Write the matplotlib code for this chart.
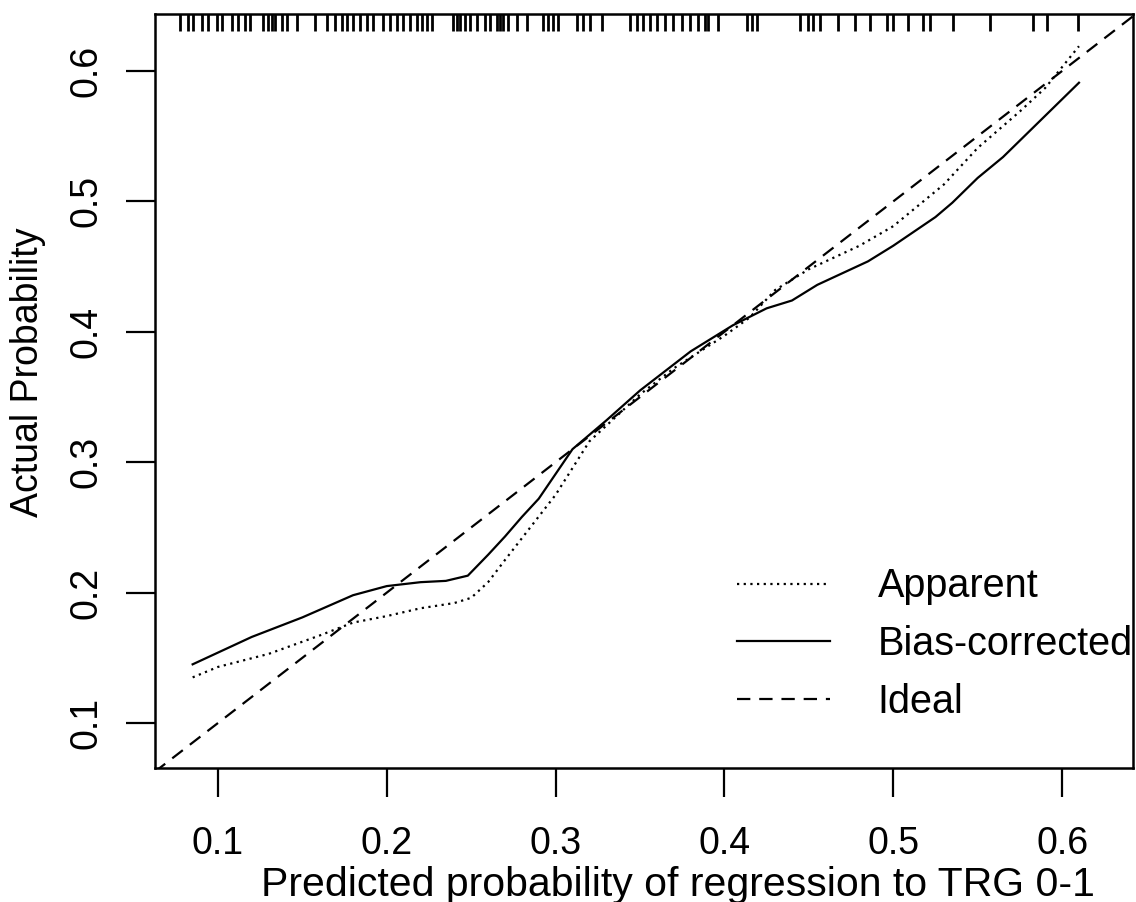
import matplotlib
matplotlib.use("Agg")
import matplotlib.pyplot as plt
import numpy as np

# ---- data ----
apparent_x = [0.085, 0.10, 0.13, 0.16, 0.18, 0.20, 0.22, 0.24, 0.25, 0.26, 0.27, 0.285,
              0.30, 0.32, 0.35, 0.37, 0.40, 0.415, 0.43, 0.45, 0.48, 0.50, 0.53, 0.55,
              0.575, 0.59, 0.61]
apparent_y = [0.135, 0.143, 0.153, 0.167, 0.177, 0.182, 0.188, 0.192, 0.196, 0.208, 0.225, 0.250,
              0.275, 0.316, 0.352, 0.372, 0.397, 0.411, 0.432, 0.448, 0.466, 0.481, 0.513, 0.541,
              0.569, 0.587, 0.619]

bias_x = [0.085, 0.12, 0.15, 0.18, 0.20, 0.22, 0.235, 0.248, 0.26, 0.27, 0.28, 0.29, 0.31,
          0.33, 0.35, 0.38, 0.405, 0.425, 0.44, 0.455, 0.485, 0.50, 0.525, 0.535, 0.55,
          0.565, 0.595, 0.61]
bias_y = [0.145, 0.166, 0.181, 0.198, 0.205, 0.208, 0.209, 0.213, 0.229, 0.243, 0.258, 0.272, 0.310,
          0.332, 0.355, 0.385, 0.405, 0.418, 0.424, 0.436, 0.454, 0.466, 0.488, 0.499, 0.518,
          0.534, 0.572, 0.591]

ideal = [0.0, 1.0]

# predicted probabilities shown as rug (pixel-read, converted to data units)
rug_px = [180, 188, 193, 202, 208, 217, 222, 232, 238, 245, 250, 263, 268, 272, 275, 282, 287,
          297, 315, 327, 335, 342, 347, 353, 360, 367, 373, 383, 390, 397, 403, 410, 417, 422,
          427, 432, 453, 457, 460, 465, 470, 477, 485, 490, 497, 500, 503, 508, 517, 527, 543,
          548, 553, 558, 577, 583, 590, 602, 630, 637, 643, 650, 657, 665, 673, 682, 690, 698,
          705, 708, 718, 747, 752, 757, 800, 808, 813, 820, 838, 855, 870, 887, 893, 908, 923,
          930, 953, 990, 1033, 1047, 1078]
rug = [round(0.1 + (p - 218) / 1688.0, 4) for p in rug_px]

xticks = [0.1, 0.2, 0.3, 0.4, 0.5, 0.6]
yticks = [0.1, 0.2, 0.3, 0.4, 0.5, 0.6]
xlim = (0.0627, 0.642)
ylim = (0.0655, 0.6437)

labels = ["Apparent", "Bias-corrected", "Ideal"]
xlabel = "Predicted probability of regression to TRG 0-1"
ylabel = "Actual Probability"

# ---- plot ----
plt.rcParams['font.family'] = ['Liberation Sans', 'DejaVu Sans']

fig = plt.figure(figsize=(11.36, 9.02), dpi=100)
ax = fig.add_axes([155/1136, 1 - 768/902, (1133-155)/1136, (768-14)/902])

lw = 1.6
l1, = ax.plot(apparent_x, apparent_y, color='black', lw=lw, linestyle=(0, (1, 2)))
l2, = ax.plot(bias_x, bias_y, color='black', lw=lw, linestyle='-')
l3, = ax.plot(ideal, ideal, color='black', lw=lw, linestyle=(0, (6, 4)))

ax.vlines(rug, 1 - 17/754, 1, transform=ax.get_xaxis_transform(), color='black', lw=2)

ax.set_xlim(*xlim)
ax.set_ylim(*ylim)
ax.set_xticks(xticks)
ax.set_yticks(yticks)
ax.set_xticklabels([f"{v:.1f}" for v in xticks])
ax.set_yticklabels([f"{v:.1f}" for v in yticks], rotation=90, va='center')

ax.tick_params(axis='both', direction='out', length=21, width=1.6, labelsize=27, colors='black')
ax.tick_params(axis='x', pad=21)
ax.tick_params(axis='y', pad=15)
for s in ax.spines.values():
    s.set_linewidth(1.8)

ax.set_xlabel(xlabel, fontsize=29.5, va='baseline', ha='center')
ax.xaxis.set_label_coords((678-155)/978, (768-896)/754)
ax.set_ylabel(ylabel, fontsize=27, va='center', ha='center')
ax.yaxis.set_label_coords((28-155)/978, (768-372)/754)

leg = ax.legend([l1, l2, l3], labels, frameon=False, fontsize=28.5,
                loc='lower right', bbox_to_anchor=(1.036, 0.015),
                handlelength=2.35, handletextpad=1.2, labelspacing=0.5)

fig.savefig("out.png", dpi=100)
